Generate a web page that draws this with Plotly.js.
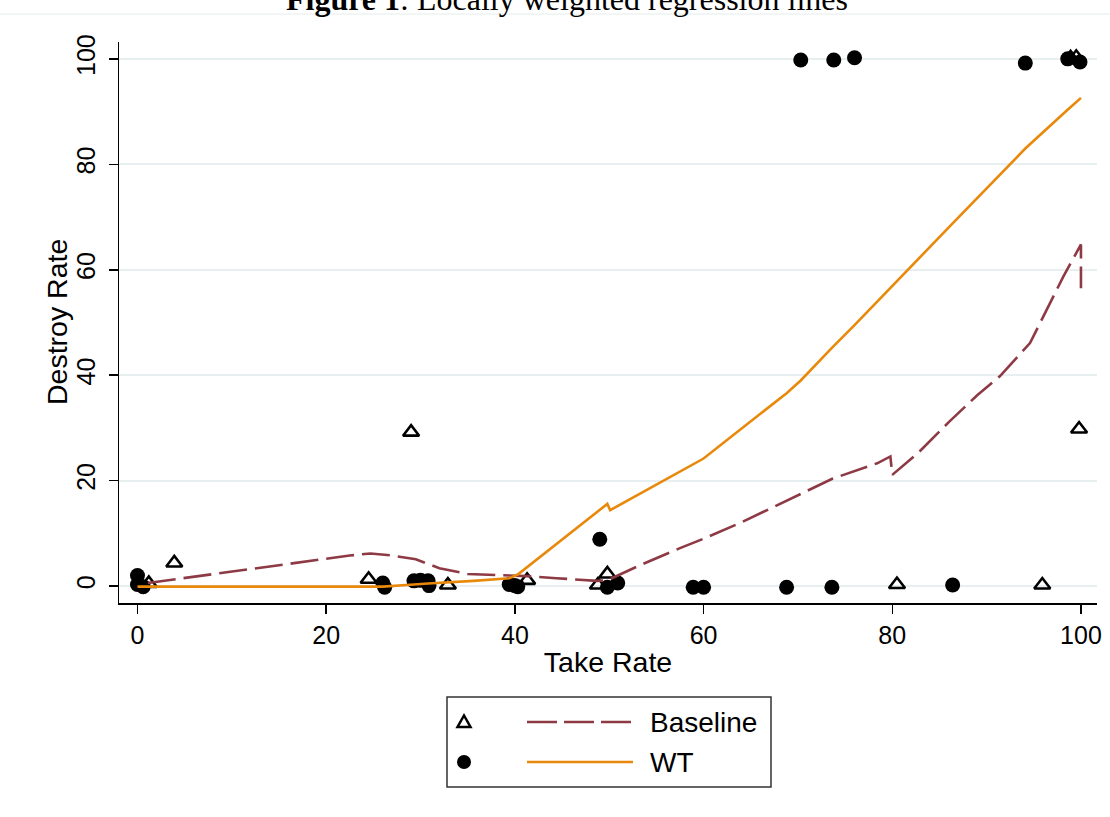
<!DOCTYPE html>
<html>
<head>
<meta charset="utf-8">
<script src="https://cdn.plot.ly/plotly-3.0.1.min.js"></script>
<style>html,body{margin:0;padding:0;background:#fff;}#chart{width:1110px;height:817px;}</style>
</head>
<body>
<div id="chart"></div>
<script>
// Scatter points: Baseline (hollow triangles)
const baselineX = [1.2, 3.9, 24.5, 29.0, 32.9, 41.3, 48.8, 49.8, 80.5, 95.9, 98.9, 99.5, 99.8];
const baselineY = [0.5, 4.4, 1.3, 29.2, 0.2, 1.1, 0.2, 2.3, 0.3, 0.2, 100.2, 100.3, 29.8];

// Scatter points: WT (filled circles)
const wtX = [0, 0, 0.6, 26.0, 26.2, 29.3, 30.0, 30.8, 30.9, 39.4, 40.0, 40.3, 49.0, 49.8, 50.9, 58.9, 60.0, 68.8, 73.6, 86.4, 70.3, 73.8, 76.0, 94.1, 98.6, 99.9];
const wtY = [2.0, 0.3, -0.1, 0.6, -0.2, 1.0, 1.1, 1.0, 0.1, 0.3, 0.1, -0.1, 8.9, -0.2, 0.6, -0.2, -0.2, -0.2, -0.2, 0.2, 99.8, 99.8, 100.2, 99.2, 100.0, 99.4];

// Lowess line: Baseline
const baseLineX = [1.1, 10, 22.5, 24.7, 27, 29.5, 32, 35, 38.4, 41.3, 44.4, 48.7, 49.8, 53.3, 57.5, 60, 63.9, 67.8, 73.7, 78.4, 79.8, 80.0, 82.7, 86.1, 89, 91.4, 94.6, 98.1, 99.6, 100, 100];
const baseLineY = [0.6, 2.8, 5.8, 6.2, 5.8, 5.1, 3.4, 2.3, 2.1, 1.9, 1.5, 1.0, 1.1, 4.0, 7.2, 9.0, 12.0, 15.4, 20.4, 23.3, 24.6, 21.1, 25.2, 31.3, 36.2, 39.8, 46.1, 58.6, 63.4, 64.8, 56.5];

// Lowess line: WT
const wtLineX = [0, 26, 29.3, 30.8, 35.6, 39.4, 40.3, 49.0, 49.8, 50.1, 58.9, 60.0, 68.8, 70.3, 73.6, 76.0, 86.4, 94.1, 98.5, 100];
const wtLineY = [-0.1, -0.1, 0.3, 0.5, 1.0, 1.5, 2.2, 14.5, 15.6, 14.4, 23.0, 24.2, 36.6, 39.0, 45.2, 49.5, 68.8, 83.0, 90.2, 92.6];

const xTicks = [0, 20, 40, 60, 80, 100];
const yTicks = [0, 20, 40, 60, 80, 100];

const maroon = '#8e3a45';
const orange = '#e8890c';

const traces = [
  {x: baselineX, y: baselineY, type: 'scatter', mode: 'markers', name: 'Baseline pts',
   marker: {symbol: 'triangle-up-open', size: 14, color: '#000', line: {width: 2.6, color: '#000'}}},
  {x: wtX, y: wtY, type: 'scatter', mode: 'markers', name: 'WT pts',
   marker: {symbol: 'circle', size: 15, color: '#000', line: {width: 0}}},
  {x: baseLineX, y: baseLineY, type: 'scatter', mode: 'lines', name: 'Baseline',
   line: {color: maroon, width: 2.6, dash: '28px,8px'}},
  {x: wtLineX, y: wtLineY, type: 'scatter', mode: 'lines', name: 'WT',
   line: {color: orange, width: 2.6}}
];

// plot area: left 119, right 1097, top 42, bottom 603
const L = 119, R = 1097, T = 42, B = 603;
const px = v => (v - L) / (R - L);
const py = v => (B - v) / (B - T);

const layout = {
  width: 1110, height: 817,
  margin: {l: L, r: 1110 - R, t: T, b: 817 - B, pad: 0},
  paper_bgcolor: '#fff', plot_bgcolor: '#fff',
  showlegend: false,
  font: {family: 'Liberation Sans, Arial, sans-serif', color: '#000'},
  xaxis: {
    range: [-1.96, 101.7], tickvals: xTicks, ticktext: xTicks.map(String),
    showgrid: false, zeroline: false, showline: true, linecolor: '#000', linewidth: 1.5,
    ticks: 'outside', ticklen: 9, tickwidth: 1.5, tickcolor: '#000',
    tickfont: {size: 25, family: 'Liberation Sans, Arial, sans-serif'},
    title: {text: 'Take Rate', font: {size: 28.5}, standoff: 4}
  },
  yaxis: {
    range: [-3.2, 103.2], tickvals: yTicks, ticktext: yTicks.map(String),
    showgrid: true, gridcolor: '#e8eff1', gridwidth: 2, zeroline: false,
    showline: true, linecolor: '#000', linewidth: 1.5,
    ticks: 'outside', ticklen: 9, tickwidth: 1.5, tickcolor: '#000', tickangle: -90,
    ticklabelstandoff: 4,
    tickfont: {size: 25, family: 'Liberation Sans, Arial, sans-serif'}
  },
  annotations: [
    {text: '<b>Figure 1</b>: Locally weighted regression lines', xref: 'paper', yref: 'paper',
     x: px(567), y: py(19), xanchor: 'center', yanchor: 'bottom', showarrow: false,
     font: {family: 'Liberation Serif, Times New Roman, serif', size: 32, color: '#000'}},
    {text: 'Destroy Rate', xref: 'paper', yref: 'paper', x: px(57), y: py(322),
     xanchor: 'center', yanchor: 'middle', textangle: -90, showarrow: false,
     font: {size: 28.5, color: '#000'}},
    {text: 'Baseline', xref: 'paper', yref: 'paper', x: px(648), y: py(722), xanchor: 'left', yanchor: 'middle',
     showarrow: false, font: {size: 28, color: '#000'}},
    {text: 'WT', xref: 'paper', yref: 'paper', x: px(648), y: py(762), xanchor: 'left', yanchor: 'middle',
     showarrow: false, font: {size: 28, color: '#000'}}
  ],
  shapes: [
    {type: 'line', xref: 'paper', yref: 'paper', x0: px(0), x1: px(1110), y0: py(14), y1: py(14),
     line: {color: '#e6ecee', width: 1}},
    {type: 'rect', xref: 'paper', yref: 'paper', x0: px(447), x1: px(771), y0: py(697), y1: py(787),
     line: {color: '#333', width: 1.5}, fillcolor: 'rgba(0,0,0,0)'},
    {type: 'line', xref: 'paper', yref: 'paper', x0: px(527), x1: px(633), y0: py(722), y1: py(722),
     line: {color: maroon, width: 2.6, dash: '30px,7px'}},
    {type: 'line', xref: 'paper', yref: 'paper', x0: px(527), x1: px(633), y0: py(762), y1: py(762),
     line: {color: orange, width: 2.6}},
    {type: 'path', xref: 'paper', yref: 'paper', xsizemode: 'pixel', ysizemode: 'pixel',
     xanchor: px(464), yanchor: py(722), path: 'M-6.5,-5 L6.5,-5 L0,6.5 Z',
     line: {color: '#000', width: 2.5}, fillcolor: 'rgba(0,0,0,0)'},
    {type: 'circle', xref: 'paper', yref: 'paper', xsizemode: 'pixel', ysizemode: 'pixel',
     xanchor: px(464), yanchor: py(762), x0: -7, x1: 7, y0: -7, y1: 7,
     line: {color: '#000', width: 0}, fillcolor: '#000'}
  ]
};

Plotly.newPlot('chart', traces, layout, {staticPlot: true, displayModeBar: false});
</script>
</body>
</html>
